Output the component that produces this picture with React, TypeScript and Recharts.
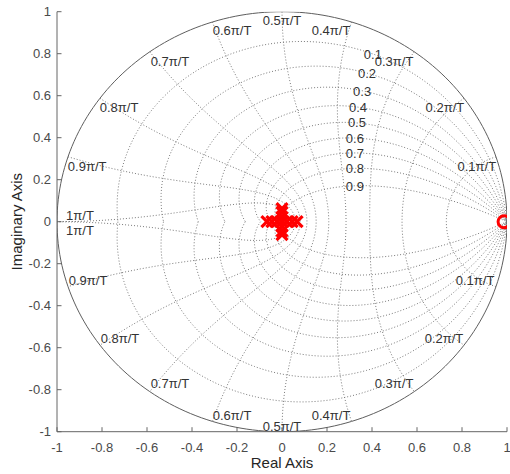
import React from 'react';
import { ScatterChart, Scatter, XAxis, YAxis } from 'recharts';

// ---- data ----
const TICKS = [-1, -0.8, -0.6, -0.4, -0.2, 0, 0.2, 0.4, 0.6, 0.8, 1];
const ZETA_VALUES = [0.1, 0.2, 0.3, 0.4, 0.5, 0.6, 0.7, 0.8, 0.9];
const WN_VALUES = [0.1, 0.2, 0.3, 0.4, 0.5, 0.6, 0.7, 0.8, 0.9, 1];
const POLES = [
  { x: -0.067, y: 0 }, { x: -0.045, y: 0 }, { x: -0.022, y: 0 }, { x: 0, y: 0 },
  { x: 0.022, y: 0 }, { x: 0.045, y: 0 }, { x: 0.067, y: 0 },
  { x: 0, y: 0.022 }, { x: 0, y: -0.022 }, { x: 0, y: 0.045 }, { x: 0, y: -0.045 },
  { x: 0, y: 0.062 }, { x: 0, y: -0.062 },
];
const ZEROS = [{ x: 0.987, y: 0 }];
// label anchors (centres) of grid annotations
const WN_LABELS = [
  { x: 0.866, y: 0.265, t: '0.1' }, { x: 0.724, y: 0.545, t: '0.2' }, { x: 0.498, y: 0.762, t: '0.3' },
  { x: 0.218, y: 0.911, t: '0.4' }, { x: 0, y: 0.961, t: '0.5' }, { x: -0.222, y: 0.911, t: '0.6' },
  { x: -0.498, y: 0.762, t: '0.7' }, { x: -0.724, y: 0.545, t: '0.8' }, { x: -0.866, y: 0.265, t: '0.9' },
  { x: -0.898, y: 0.029, t: '1' },
  { x: 0.858, y: -0.278, t: '0.1' }, { x: 0.72, y: -0.554, t: '0.2' }, { x: 0.498, y: -0.768, t: '0.3' },
  { x: 0.218, y: -0.924, t: '0.4' }, { x: 0, y: -0.976, t: '0.5' }, { x: -0.222, y: -0.924, t: '0.6' },
  { x: -0.498, y: -0.768, t: '0.7' }, { x: -0.72, y: -0.554, t: '0.8' }, { x: -0.862, y: -0.278, t: '0.9' },
  { x: -0.898, y: -0.04, t: '1' },
];
const ZETA_LABELS = [
  { x: 0.404, y: 0.799, t: '0.1' }, { x: 0.378, y: 0.707, t: '0.2' }, { x: 0.356, y: 0.622, t: '0.3' },
  { x: 0.338, y: 0.543, t: '0.4' }, { x: 0.333, y: 0.471, t: '0.5' }, { x: 0.324, y: 0.397, t: '0.6' },
  { x: 0.324, y: 0.326, t: '0.7' }, { x: 0.324, y: 0.254, t: '0.8' }, { x: 0.324, y: 0.17, t: '0.9' },
];

// ---- grid construction (z-plane damping / natural-frequency loci) ----
const N = 90;
function zetaCurve(zeta: number) {
  const m = zeta / Math.sqrt(1 - zeta * zeta);
  const pts = [];
  for (let k = -N; k <= N; k++) {
    const th = (Math.PI * k) / N;
    const r = Math.exp(-m * Math.abs(th));
    pts.push({ x: r * Math.cos(th), y: r * Math.sin(th) });
  }
  return pts;
}
function wnCurve(w: number) {
  const wT = w * Math.PI;
  const pts = [];
  for (let k = 0; k <= N; k++) {
    const ph = Math.PI / 2 + (Math.PI * k) / N;
    const re = wT * Math.cos(ph);
    const im = wT * Math.sin(ph);
    const r = Math.exp(re);
    pts.push({ x: r * Math.cos(im), y: r * Math.sin(im) });
  }
  return pts;
}
function unitCircle() {
  const pts = [];
  for (let k = 0; k <= 240; k++) {
    const th = (2 * Math.PI * k) / 240;
    pts.push({ x: Math.cos(th), y: Math.sin(th) });
  }
  return pts;
}

const FONT = '"Liberation Sans", Arial, Helvetica, sans-serif';
const AXIS = '#666666';
const TICK_TEXT = '#4a4a4a';
const GRID = '#7a7a7a';
const LABEL_TEXT = '#333333';
const FS = 13;
const TL = 4.5;

const BottomTick = (p: any) => (
  <g>
    <line x1={p.x} x2={p.x} y1={p.y} y2={p.y - TL} stroke={AXIS} strokeWidth={1} />
    <text x={p.x} y={p.y + 11 + FS * 0.71} textAnchor="middle" fill={TICK_TEXT} fontSize={FS} fontFamily={FONT}>
      {String(p.payload.value)}
    </text>
  </g>
);
const TopTick = (p: any) => (
  <line x1={p.x} x2={p.x} y1={p.y} y2={p.y + TL} stroke={AXIS} strokeWidth={1} />
);
const LeftTick = (p: any) => (
  <g>
    <line x1={p.x} x2={p.x + TL} y1={p.y} y2={p.y} stroke={AXIS} strokeWidth={1} />
    <text x={p.x - 6} y={p.y + FS * 0.36} textAnchor="end" fill={TICK_TEXT} fontSize={FS} fontFamily={FONT}>
      {String(p.payload.value)}
    </text>
  </g>
);
const RightTick = (p: any) => (
  <line x1={p.x} x2={p.x - TL} y1={p.y} y2={p.y} stroke={AXIS} strokeWidth={1} />
);

const Hidden = () => <g />;
const XMark = (p: any) => {
  const s = 5.5;
  return (
    <g stroke="#ff0000" strokeWidth={3.2} strokeLinecap="butt">
      <line x1={p.cx - s} y1={p.cy - s} x2={p.cx + s} y2={p.cy + s} />
      <line x1={p.cx - s} y1={p.cy + s} x2={p.cx + s} y2={p.cy - s} />
    </g>
  );
};
const OMark = (p: any) => (
  <circle cx={p.cx} cy={p.cy} r={6} fill="none" stroke="#ff0000" strokeWidth={3} />
);
const WnText = (p: any) => (
  <text x={p.cx} y={p.cy + FS * 0.36} textAnchor="middle" fill={LABEL_TEXT} fontSize={FS} fontFamily={FONT}>
    {p.payload.t}π/T
  </text>
);
const ZetaText = (p: any) => (
  <text x={p.cx} y={p.cy + FS * 0.36} textAnchor="middle" fill={LABEL_TEXT} fontSize={FS} fontFamily={FONT}>
    {p.payload.t}
  </text>
);

export default function App() {
  const zetaCurves = ZETA_VALUES.map(zetaCurve);
  const wnCurves = WN_VALUES.map(wnCurve);
  const circle = unitCircle();
  const gridLine = { stroke: GRID, strokeWidth: 1, strokeDasharray: '1 2' };
  return (
    <div style={{ position: 'fixed', left: 0, top: 0, width: 510, height: 474, background: '#fff' }}>
      <ScatterChart width={510} height={474} margin={{ top: 11.7, right: 3, bottom: 0, left: 0 }}>
        <XAxis
          xAxisId={0} type="number" dataKey="x" domain={[-1, 1]} ticks={TICKS} interval={0}
          allowDataOverflow height={42.3} tickSize={0} tickMargin={0} tickLine={false}
          tick={BottomTick} axisLine={{ stroke: AXIS, strokeWidth: 1 }}
          label={{ value: 'Real Axis', position: 'insideBottom', offset: 6, fill: '#262626', fontSize: 15, fontFamily: FONT }}
        />
        <XAxis
          xAxisId="top" orientation="top" type="number" dataKey="x" domain={[-1, 1]} ticks={TICKS} interval={0}
          allowDataOverflow height={0} tickSize={0} tickMargin={0} tickLine={false}
          tick={TopTick} axisLine={{ stroke: AXIS, strokeWidth: 1 }}
        />
        <YAxis
          yAxisId={0} type="number" dataKey="y" domain={[-1, 1]} ticks={TICKS} interval={0}
          allowDataOverflow width={57} tickSize={0} tickMargin={0} tickLine={false}
          tick={LeftTick} axisLine={{ stroke: AXIS, strokeWidth: 1 }}
          label={{ value: 'Imaginary Axis', angle: -90, position: 'insideLeft', offset: 17, fill: '#262626', fontSize: 15, fontFamily: FONT, style: { textAnchor: 'middle' } }}
        />
        <YAxis
          yAxisId="right" orientation="right" type="number" dataKey="y" domain={[-1, 1]} ticks={TICKS} interval={0}
          allowDataOverflow width={0} tickSize={0} tickMargin={0} tickLine={false}
          tick={RightTick} axisLine={{ stroke: AXIS, strokeWidth: 1 }}
        />
        {zetaCurves.map((d, i) => (
          <Scatter key={'z' + i} data={d} line={gridLine} lineType="joint" shape={Hidden} isAnimationActive={false} />
        ))}
        {wnCurves.map((d, i) => (
          <Scatter key={'w' + i} data={d} line={gridLine} lineType="joint" shape={Hidden} isAnimationActive={false} />
        ))}
        <Scatter data={circle} line={{ stroke: '#5e5e5e', strokeWidth: 1 }} lineType="joint" shape={Hidden} isAnimationActive={false} />
        <Scatter data={WN_LABELS} shape={WnText} isAnimationActive={false} />
        <Scatter data={ZETA_LABELS} shape={ZetaText} isAnimationActive={false} />
        <Scatter data={POLES} shape={XMark} isAnimationActive={false} />
        <Scatter data={ZEROS} shape={OMark} isAnimationActive={false} />
      </ScatterChart>
    </div>
  );
}
